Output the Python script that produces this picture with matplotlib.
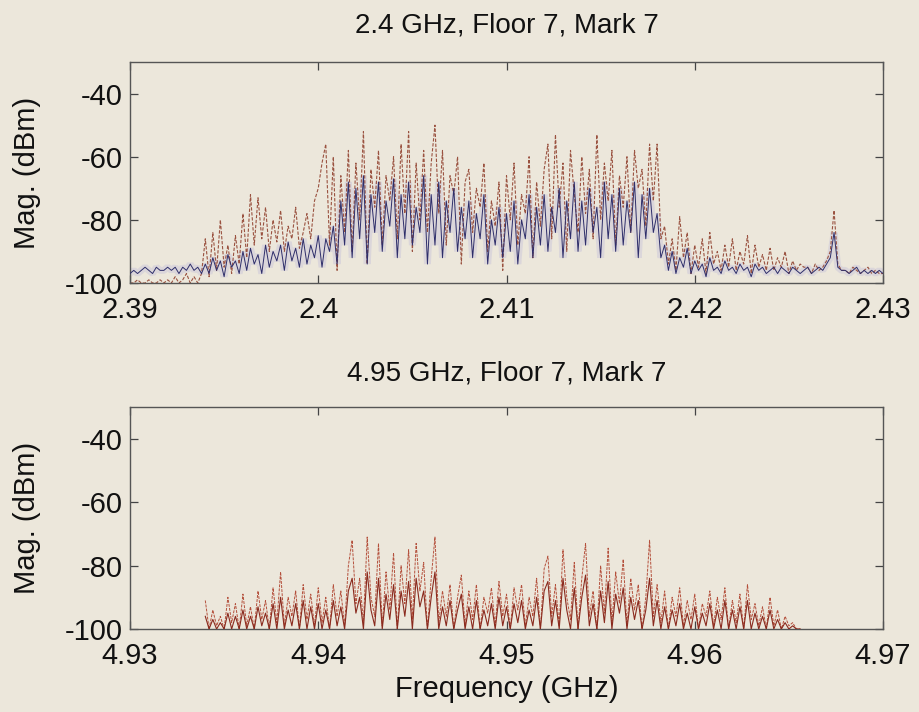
import numpy as np
import matplotlib
matplotlib.use("Agg")
import matplotlib.pyplot as plt
from matplotlib.ticker import FormatStrFormatter

# ---- 2.4 GHz band sweep (0.2 MHz step) ----
f24_start, f24_step = 2.390, 0.0002
avg24 = [
    -97, -96, -97, -96, -95, -96, -97, -95, -96, -96,
    -95, -96, -95, -97, -95, -96, -94, -96, -95, -97,
    -94, -97, -92, -96, -93, -98, -91, -95, -93, -97,
    -90, -96, -89, -94, -91, -97, -88, -95, -90, -93,
    -88, -96, -87, -93, -89, -95, -86, -94, -88, -92,
    -85, -95, -86, -90, -82, -94, -74, -88, -68, -92,
    -70, -86, -66, -94, -72, -84, -68, -90, -74, -82,
    -67, -92, -72, -86, -68, -88, -76, -84, -66, -94,
    -72, -88, -68, -92, -74, -84, -70, -90, -76, -86,
    -74, -92, -78, -86, -72, -94, -80, -88, -76, -92,
    -78, -90, -74, -94, -80, -86, -72, -92, -76, -88,
    -72, -90, -76, -84, -70, -92, -74, -86, -68, -90,
    -74, -88, -70, -84, -76, -92, -68, -86, -72, -90,
    -70, -88, -74, -84, -68, -92, -72, -86, -70, -84,
    -78, -92, -88, -96, -90, -97, -92, -95, -89, -97,
    -93, -96, -94, -98, -92, -96, -95, -97, -93, -96,
    -95, -97, -94, -96, -95, -98, -94, -96, -95, -97,
    -96, -95, -97, -95, -96, -97, -95, -96, -97, -96,
    -95, -97, -96, -95, -96, -94, -92, -84, -95, -96,
    -96, -97, -96, -95, -97, -96, -97, -96, -97, -96,
    -97,
]
max24 = [
    -100, -100, -99, -100, -100, -99, -100, -100, -99, -100,
    -99, -100, -98, -100, -99, -97, -100, -98, -100, -97,
    -86, -98, -84, -96, -80, -95, -88, -97, -85, -94,
    -78, -92, -72, -88, -73, -86, -76, -90, -80, -87,
    -77, -90, -82, -86, -76, -89, -84, -78, -86, -74,
    -70, -62, -56, -88, -60, -96, -66, -84, -58, -90,
    -62, -80, -52, -94, -64, -76, -58, -88, -66, -74,
    -60, -86, -56, -78, -52, -90, -62, -80, -58, -84,
    -62, -50, -78, -58, -88, -66, -72, -60, -94, -68,
    -64, -84, -70, -76, -62, -90, -74, -82, -68, -96,
    -66, -80, -62, -88, -72, -78, -60, -92, -68, -82,
    -64, -56, -86, -53, -76, -62, -90, -58, -72, -84,
    -60, -78, -64, -86, -53, -80, -62, -74, -58, -88,
    -66, -76, -60, -84, -58, -70, -64, -82, -56, -74,
    -56, -86, -82, -94, -86, -96, -79, -92, -84, -97,
    -88, -95, -86, -97, -84, -94, -90, -96, -88, -95,
    -86, -96, -90, -94, -85, -97, -88, -95, -91, -96,
    -89, -96, -92, -95, -90, -97, -93, -96, -94, -95,
    -95, -97, -94, -96, -95, -93, -90, -77, -94, -96,
    -96, -97, -95, -96, -97, -96, -95, -97, -96, -97,
    -97,
]

# ---- 4.95 GHz band sweep (0.2 MHz step) ----
f49_start, f49_step = 4.934, 0.0002
max49 = [
    -91, -100, -94, -99, -96, -100, -90, -98, -92, -100,
    -89, -99, -93, -100, -88, -97, -91, -100, -87, -98,
    -82, -99, -90, -96, -88, -100, -86, -97, -89, -99,
    -87, -98, -90, -100, -86, -96, -88, -99, -80, -72,
    -92, -84, -98, -71, -90, -96, -73, -99, -82, -94,
    -76, -100, -80, -92, -75, -97, -73, -88, -79, -100,
    -84, -71, -98, -88, -96, -86, -100, -90, -83, -99,
    -88, -97, -86, -100, -90, -95, -87, -99, -85, -96,
    -89, -100, -87, -94, -86, -99, -90, -96, -84, -100,
    -81, -77, -96, -86, -99, -75, -90, -97, -79, -100,
    -84, -73, -96, -88, -100, -80, -95, -74.5, -98, -82,
    -92, -78, -99, -84, -94, -86, -100, -90, -72, -96,
    -86, -98, -88, -100, -90, -96, -87, -99, -91, -97,
    -89, -100, -92, -96, -88, -99, -90, -97, -87, -100,
    -91, -98, -89, -100, -86, -97, -92, -99, -93, -100,
    -90, -99, -94, -100, -96, -99, -98, -100, -100,
]
avg49 = [
    -96, -100, -97, -100, -98, -100, -95, -100, -96, -100,
    -94, -100, -96, -100, -93, -99, -95, -100, -92, -100,
    -90, -100, -94, -99, -92, -100, -91, -100, -93, -100,
    -92, -100, -94, -100, -91, -99, -93, -100, -88, -84,
    -95, -90, -100, -82, -94, -99, -84, -100, -89, -97,
    -86, -100, -88, -96, -85, -100, -84, -93, -88, -100,
    -90, -82, -100, -93, -99, -91, -100, -94, -89, -100,
    -93, -100, -91, -100, -94, -99, -92, -100, -90, -99,
    -93, -100, -92, -98, -91, -100, -94, -99, -90, -100,
    -88, -85, -99, -91, -100, -84, -94, -100, -87, -100,
    -90, -83, -99, -92, -100, -88, -98, -85, -100, -89,
    -95, -87, -100, -90, -97, -91, -100, -94, -84, -99,
    -91, -100, -93, -100, -94, -99, -92, -100, -95, -100,
    -93, -100, -95, -99, -92, -100, -94, -100, -91, -100,
    -94, -100, -93, -100, -91, -100, -95, -100, -96, -100,
    -94, -100, -97, -100, -98, -100, -99, -100, -100,
]

freq24 = f24_start + f24_step * np.arange(len(avg24))
freq49 = f49_start + f49_step * np.arange(len(max49))

xticks24 = [2.39, 2.40, 2.41, 2.42, 2.43]
xticks49 = [4.93, 4.94, 4.95, 4.96, 4.97]
yticks = [-100, -80, -60, -40]

BG = "#ece7db"
plt.rcParams["font.family"] = ["Liberation Sans", "DejaVu Sans"]
plt.rcParams["axes.unicode_minus"] = False

fig = plt.figure(figsize=(9.2, 7.12), dpi=100, facecolor=BG)
W, H = 920.0, 712.0
ax1 = fig.add_axes([130 / W, 1 - 283 / H, 753 / W, 221 / H])
ax2 = fig.add_axes([130 / W, 1 - 629 / H, 753 / W, 222 / H])


def style(ax, xticks, title, title_pad):
    ax.set_facecolor(BG)
    ax.set_ylim(-100, -30)
    ax.set_xlim(xticks[0], xticks[-1])
    ax.set_xticks(xticks)
    ax.set_yticks(yticks)
    ax.xaxis.set_major_formatter(FormatStrFormatter("%g"))
    ax.tick_params(direction="in", length=6, width=0.9, color="#444444",
                   top=True, right=True, labelsize=21, labelcolor="#111111")
    ax.tick_params(axis="x", pad=9)
    ax.tick_params(axis="y", pad=5)
    for s in ax.spines.values():
        s.set_color("#555555")
        s.set_linewidth(1.0)
    ax.set_ylabel("Mag. (dBm)", fontsize=21, color="#111111", labelpad=17)
    ax.set_title(title, fontsize=20, color="#111111", pad=title_pad)


# upper panel: max-hold (dashed red) beneath the averaged trace (navy with haze)
ax1.plot(freq24, avg24, color="#9a96d8", lw=5, alpha=0.2,
         solid_capstyle="butt", solid_joinstyle="bevel", zorder=1)
ax1.plot(freq24, max24, color="#9a5240", lw=0.8, ls=(0, (3, 1.5)), zorder=2)
ax1.plot(freq24, avg24, color="#2e2e6a", lw=0.7, zorder=3)
style(ax1, xticks24, "2.4 GHz, Floor 7, Mark 7", 21)

# lower panel
ax2.plot(freq49, max49, color="#b4503c", lw=0.7, ls=(0, (3, 1.2)), zorder=2)
ax2.plot(freq49, avg49, color="#8a2a1e", lw=0.8, zorder=3)
style(ax2, xticks49, "4.95 GHz, Floor 7, Mark 7", 19)
ax2.set_xlabel("Frequency (GHz)", fontsize=21, color="#111111", labelpad=4)

fig.savefig("out.png", dpi=100, facecolor=BG)
